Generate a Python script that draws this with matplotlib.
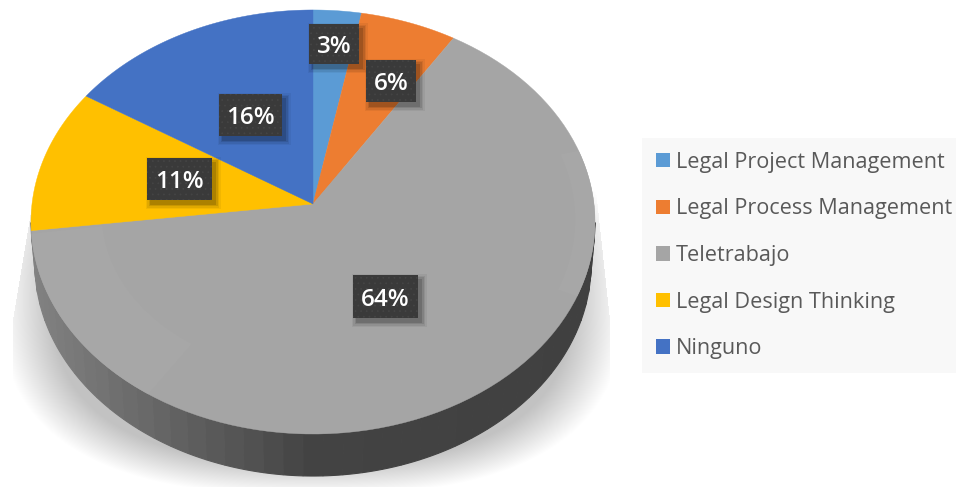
"""Tilted pie chart with drop shadow, drawn in pixel coordinates."""
import numpy as np
import matplotlib
matplotlib.use('Agg')
import matplotlib.pyplot as plt
from matplotlib.patches import Polygon, Rectangle, Patch
from matplotlib.colors import LinearSegmentedColormap

categories = ['Legal Project Management', 'Legal Process Management', 'Teletrabajo',
              'Legal Design Thinking', 'Ninguno']
values = [3, 6, 64, 11, 16]

COLORS = ['#5b9bd5', '#ed7d31', '#a5a5a5', '#ffc000', '#4472c4']
LABEL_BOXES = [(309, 24, 50, 40), (366, 60, 50, 42), (353, 275, 65, 43),
               (147, 158, 65, 42), (219, 94, 63, 42)]

# projection of the pie disc, the apex sits above the middle of the ellipse
APEX_X, APEX_Y = 313, 204
SCALE_X, SCALE_Y, TILT = 281, 210.5, 0.0849
DEPTH = 42
SIDE_SHRINK = 0.986

plt.rcParams['font.family'] = ['Open Sans', 'DejaVu Sans']


def project(theta_deg, r=1.0):
    t = np.radians(theta_deg)
    u, v = r * np.sin(t), r * np.cos(t)
    w = 1 + TILT * v
    return APEX_X + SCALE_X * u / w, APEX_Y - SCALE_Y * v / w


def band(ax, t0, t1, r0, r1, color, zorder):
    ts = np.linspace(t0, t1, 60)
    xa, ya = project(ts, r1)
    xb, yb = project(ts[::-1], r0)
    pts = np.column_stack([np.r_[xa, xb], np.r_[ya, yb]])
    ax.add_patch(Polygon(pts, closed=True, fc=color, ec='none', zorder=zorder))


def draw_shadow(ax):
    yy, xx = np.mgrid[0:487, 0:956] + 0.5
    # squared-off ellipse so the shadow stays dark along the lower sides
    r = (np.abs((xx - 312) / 312) ** 2.6 + np.abs((yy - 300) / 195) ** 2.6) ** (1 / 2.6)
    soft = np.clip((1 - r) / 0.17, 0, 1)
    left = np.maximum(38 - 25 * (yy - 170) / 150, 13)
    right = np.minimum(596 + 14 * (yy - 190) / 130, 610)
    inside = (yy > 170) & (xx > left) & (xx < right)
    img = np.zeros((487, 956, 4))
    img[..., 3] = 0.24 * soft * inside
    ax.imshow(img, extent=(0, 956, 487, 0), zorder=0, interpolation='bilinear', aspect='auto')


def draw_side(ax):
    cmap = LinearSegmentedColormap.from_list('side', [(0, '#828282'), (0.5, '#434343'), (1, '#404040')])
    ts = np.linspace(95, 265, 46)
    for a, b in zip(ts[:-1], ts[1:]):
        tt = np.linspace(a, b, 6)
        xa, ya = project(tt)
        lx = APEX_X + (xa - APEX_X) * SIDE_SHRINK
        pts = np.column_stack([np.r_[xa, lx[::-1]], np.r_[ya, ya[::-1] + DEPTH]])
        c = cmap((xa.mean() - 30) / 565)
        ax.add_patch(Polygon(pts, closed=True, fc=c, ec=c, lw=0.8, zorder=1))


def draw_slices(ax):
    edges = np.r_[0, np.cumsum(values)] / sum(values) * 360
    for i, col in enumerate(COLORS):
        ts = np.linspace(edges[i], edges[i + 1], 100)
        x, y = project(ts)
        pts = np.column_stack([np.r_[APEX_X, x], np.r_[APEX_Y, y]])
        ax.add_patch(Polygon(pts, closed=True, fc=col, ec=col, lw=0.3, zorder=2))
    # faint bevel on the big slice
    band(ax, 213, 262, 0.75, 1.0, '#a7a7a7', 3)
    band(ax, 75, 115, 0.93, 1.0, '#a7a7a7', 3)


def draw_labels(ax):
    for val, (x, y, w, h) in zip(values, LABEL_BOXES):
        for grow, a in [(5, 0.05), (3.5, 0.07), (2, 0.1), (0.5, 0.14)]:
            ax.add_patch(Rectangle((x + 4 - grow, y + 4 - grow), w + 2 * grow, h + 2 * grow,
                                   fc='black', ec='none', alpha=a, zorder=4))
        ax.add_patch(Rectangle((x, y), w, h, fc='#3a3a3a', ec='#454545', hatch='...',
                               lw=0, zorder=5))
        ax.text(x + w / 2, y + h / 2, f'{val}%', color='white', fontsize=17.5, fontweight='semibold',
                ha='center', va='center_baseline', zorder=6)


def main():
    plt.rcParams['hatch.linewidth'] = 0.5
    fig = plt.figure(figsize=(9.56, 4.87), dpi=100)
    ax = fig.add_axes([0, 0, 1, 1])

    draw_shadow(ax)
    draw_side(ax)
    draw_slices(ax)
    draw_labels(ax)

    ax.set_xlim(0, 956)
    ax.set_ylim(487, 0)
    ax.axis('off')

    handles = [Patch(fc=c, ec='none') for c in COLORS]
    leg = ax.legend(handles, categories, loc='upper left', bbox_to_anchor=(642, 138),
                    bbox_transform=ax.transData, fontsize=15.6, labelcolor='#595959',
                    frameon=True, fancybox=False, framealpha=1, facecolor='#f8f8f8', edgecolor='none',
                    borderaxespad=0, borderpad=0.64, handlelength=0.64, handleheight=0.64,
                    handletextpad=0.28, labelspacing=1.18)
    leg.set_zorder(1)

    fig.savefig('out.png', dpi=100)
    plt.close()


if __name__ == "__main__":
    main()
